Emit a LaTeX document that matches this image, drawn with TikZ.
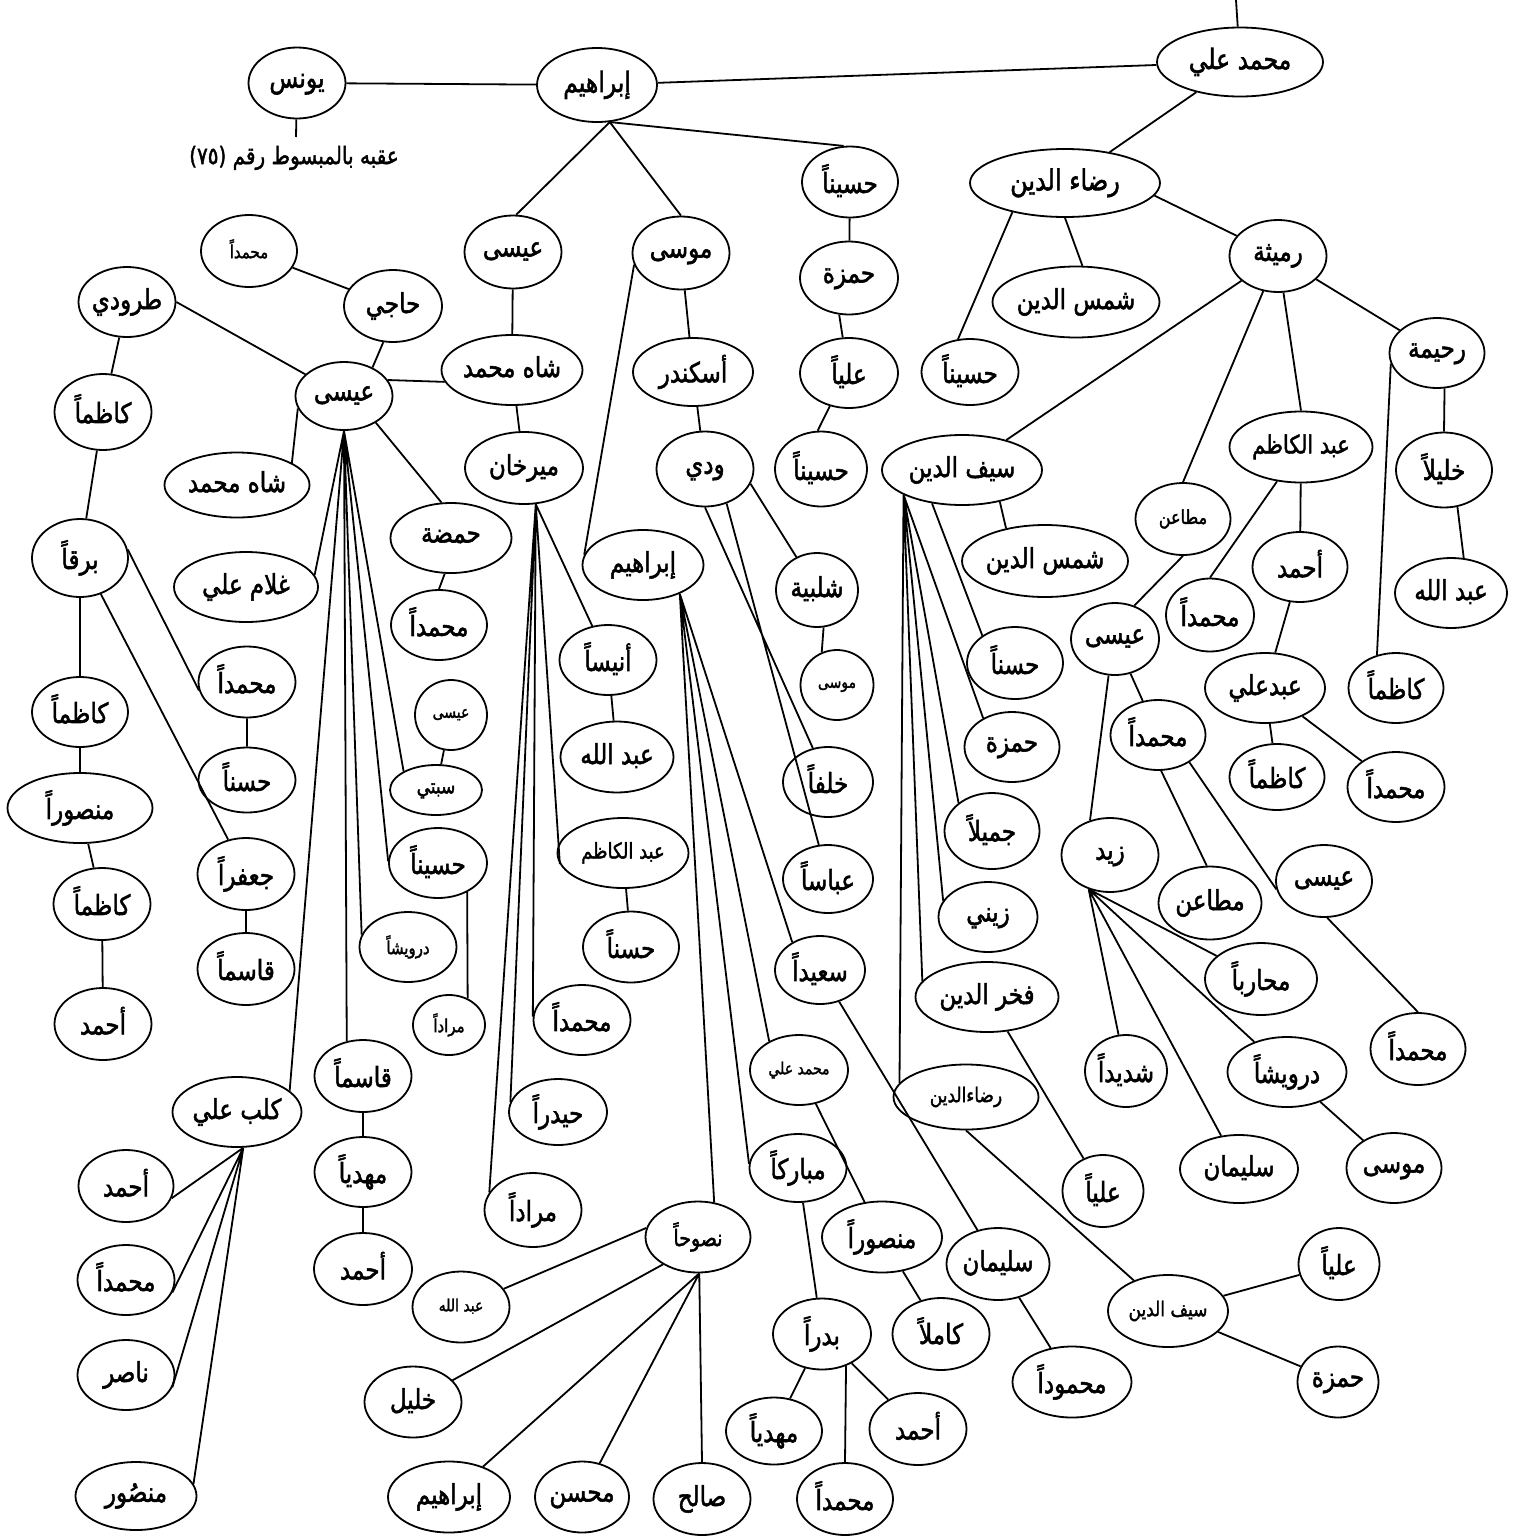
\documentclass[tikz,border=0pt]{standalone}
\usepackage{fontspec}
\usepackage{graphicx}
\usetikzlibrary{shapes.geometric}
\newfontfamily\arabicfont[Script=Arabic,FakeBold=2]{DejaVu Sans}
\TeXXeTstate=1
\tikzset{
 ov/.style n args={2}{ellipse, draw, line width=1.8pt, inner sep=0pt, minimum width=#1pt, minimum height=#2pt},
 txt/.style={inner sep=0pt, font=\arabicfont\fontsize{#1}{#1}\selectfont},
 ln/.style={line width=1.8pt},
}
% name, x, y, width, height, font size, text
\newcommand\ovn[7]{%
 \node[ov={#4}{#5}] (#1) at (#2,#3) {};
 \node[txt=#6] (#1-t) at (#1.center) {\strut\scalebox{1}[1.2]{#7}};}
\begin{document}
\begin{tikzpicture}[x=1pt,y=-1pt]
\useasboundingbox (0,0) rectangle (1533,1537);
% top
\coordinate (topEnd) at (1236,0);
\ovn{mali}{1240}{62}{166}{69}{23.5}{\beginR محمد علي\endR}
\ovn{ibr}{597}{85}{120}{74}{23.5}{\beginR إبراهيم\endR}
\ovn{yunus}{297}{83}{97}{71}{23.5}{\beginR يونس\endR}
\coordinate (noteTop) at (296,137);
\node[txt=20] (note) at (294,158) {\strut\scalebox{1}[1.2]{\beginR عقبه بالمبسوط رقم \beginL(٧٥)\endL\endR}};
% right
\ovn{rida}{1065}{183}{190}{68}{24}{\beginR رضاء الدين\endR}
\ovn{shams1}{1076}{302}{167}{71}{23}{\beginR شمس الدين\endR}
\ovn{husR}{970}{372}{97}{66}{23}{\beginR حسيناً\endR}
\ovn{rum}{1278}{256}{97}{72}{23}{\beginR رميثة\endR}
\ovn{rah}{1437}{353}{95}{70}{23}{\beginR رحيمة\endR}
\ovn{sayf}{962}{470}{160}{70}{23}{\beginR سيف الدين\endR}
\ovn{mutaR}{1183}{519}{95}{72}{16}{\beginR مطاعن\endR}
\ovn{abdk}{1301}{447}{143}{71}{21}{\beginR عبد الكاظم\endR}
\ovn{khal}{1444}{470}{96}{75}{23}{\beginR خليلاً\endR}
\ovn{abdlR}{1451}{593}{112}{70}{23}{\beginR عبد الله\endR}
\ovn{kazR}{1396}{688}{95}{70}{23}{\beginR كاظماً\endR}
\ovn{muhR1}{1210}{615}{88}{73}{23}{\beginR محمداً\endR}
\ovn{ahmR}{1300}{567}{95}{70}{23}{\beginR أحمد\endR}
\ovn{abdali}{1265}{688}{120}{70}{23}{\beginR عبدعلي\endR}
\ovn{kazR2}{1277}{777}{95}{66}{23}{\beginR كاظماً\endR}
\ovn{muhR2}{1396}{787}{97}{70}{23}{\beginR محمداً\endR}
\ovn{isaR}{1115}{639}{88}{72}{23}{\beginR عيسى\endR}
\ovn{muhR3}{1158}{735}{95}{70}{23}{\beginR محمداً\endR}
\ovn{zayd}{1110}{855}{97}{74}{23}{\beginR زيد\endR}
\ovn{mutaR2}{1210}{903}{103}{73}{23}{\beginR مطاعن\endR}
\ovn{isaR2}{1324}{881}{96}{72}{23}{\beginR عيسى\endR}
\ovn{muhR4}{1418}{1049}{95}{72}{23}{\beginR محمداً\endR}
\ovn{shad}{1126}{1071}{82}{72}{23}{\beginR شديداً\endR}
\ovn{sulR}{1239}{1169}{118}{68}{23}{\beginR سليمان\endR}
\ovn{darR}{1287}{1072}{119}{70}{23}{\beginR درويشاً\endR}
\ovn{muhar}{1261}{979}{112}{72}{23}{\beginR محارباً\endR}
\ovn{musR}{1394}{1168}{95}{70}{23}{\beginR موسى\endR}
\ovn{shams2}{1045}{561}{166}{72}{23}{\beginR شمس الدين\endR}
\ovn{hasn1}{1015}{663}{96}{72}{23}{\beginR حسناً\endR}
\ovn{ham1}{1012}{747}{95}{70}{23}{\beginR حمزة\endR}
\ovn{jamil}{992}{831}{95}{76}{23}{\beginR جميلاً\endR}
\ovn{zayni}{988}{917}{99}{70}{23}{\beginR زيني\endR}
\ovn{fakhr}{987}{997}{143}{70}{23}{\beginR فخر الدين\endR}
\ovn{rida2}{966}{1097}{145}{65}{17}{\beginR رضاءالدين\endR}
\ovn{ali1}{1103}{1191}{81}{72}{23}{\beginR علياً\endR}
\ovn{sayf2}{1168}{1311}{120}{72}{17}{\beginR سيف الدين\endR}
\ovn{ali2}{1339}{1264}{81}{72}{23}{\beginR علياً\endR}
\ovn{ham2}{1338}{1382}{81}{71}{23}{\beginR حمزة\endR}
% middle
\ovn{isaM}{513}{252}{97}{73}{23}{\beginR عيسى\endR}
\ovn{musM}{681}{253}{97}{73}{23}{\beginR موسى\endR}
\ovn{husM}{850}{182}{96}{71}{23}{\beginR حسيناً\endR}
\ovn{hamM}{849}{278}{98}{73}{23}{\beginR حمزة\endR}
\ovn{aliM}{849}{373}{98}{70}{23}{\beginR علياً\endR}
\ovn{husM2}{821}{469}{92}{75}{23}{\beginR حسيناً\endR}
\ovn{shah}{512}{370}{141}{70}{23}{\beginR شاه محمد\endR}
\ovn{iskandar}{693}{372}{120}{68}{23}{\beginR أسكندر\endR}
\ovn{ibr2}{643}{565}{121}{70}{23}{\beginR إبراهيم\endR}
\ovn{mirkhan}{524}{468}{118}{72}{23}{\beginR ميرخان\endR}
\ovn{wadi}{705}{469}{97}{75}{23}{\beginR ودي\endR}
\ovn{shalb}{817}{590}{82}{74}{23}{\beginR شلبية\endR}
\ovn{musS}{837}{685}{73}{70}{14}{\beginR موسى\endR}
\ovn{khalfa}{828}{782}{90}{70}{23}{\beginR خلفاً\endR}
\ovn{abbas}{828}{879}{90}{68}{23}{\beginR عباساً\endR}
\ovn{saeed}{820}{970}{90}{68}{23}{\beginR سعيداً\endR}
\ovn{maliS}{799}{1070}{98}{70}{14}{\beginR محمد علي\endR}
\ovn{mubarak}{798}{1168}{97}{68}{23}{\beginR مباركاً\endR}
\ovn{nasuh}{698}{1237}{105}{71}{19}{\beginR نصوحاً\endR}
\ovn{anis}{608}{660}{97}{70}{23}{\beginR أنيساً\endR}
\ovn{abdlM}{617}{757}{113}{71}{23}{\beginR عبد الله\endR}
\ovn{abdkM}{623}{853}{131}{70}{18}{\beginR عبد الكاظم\endR}
\ovn{muhM}{582}{1020}{97}{70}{23}{\beginR محمداً\endR}
\ovn{haydar}{558}{1112}{98}{66}{23}{\beginR حيدراً\endR}
\ovn{murad}{533}{1210}{97}{74}{23}{\beginR مراداً\endR}
\ovn{hasnM}{631}{947}{96}{71}{23}{\beginR حسناً\endR}
\ovn{badr}{822}{1334}{98}{71}{23}{\beginR بدراً\endR}
\ovn{mansM}{882}{1237}{120}{71}{23}{\beginR منصوراً\endR}
\ovn{kamil}{941}{1334}{97}{72}{23}{\beginR كاملاً\endR}
\ovn{sulM}{998}{1264}{103}{72}{23}{\beginR سليمان\endR}
\ovn{mahmud}{1072}{1382}{119}{71}{23}{\beginR محموداً\endR}
\ovn{mahdiM}{774}{1431}{96}{67}{23}{\beginR مهدياً\endR}
\ovn{muhB}{845}{1499}{96}{72}{23}{\beginR محمداً\endR}
\ovn{ahmB}{918}{1429}{97}{72}{23}{\beginR أحمد\endR}
\ovn{abdlS}{461}{1307}{97}{71}{14}{\beginR عبد الله\endR}
\ovn{khalil}{413}{1402}{97}{71}{23}{\beginR خليل\endR}
\ovn{ibr3}{449}{1497}{122}{71}{23}{\beginR إبراهيم\endR}
\ovn{muhsin}{582}{1497}{94}{71}{23}{\beginR محسن\endR}
\ovn{salih}{702}{1499}{97}{72}{23}{\beginR صالح\endR}
% left
\ovn{isaL}{344}{396}{97}{68}{23}{\beginR عيسى\endR}
\ovn{haji}{393}{306}{98}{72}{23}{\beginR حاجي\endR}
\ovn{muhT}{249}{251}{96}{72}{15}{\beginR محمداً\endR}
\ovn{tarudi}{127}{302}{97}{70}{23}{\beginR طرودي\endR}
\ovn{kaz1}{103}{412}{97}{76}{23}{\beginR كاظماً\endR}
\ovn{barq}{80}{558}{96}{78}{23}{\beginR برقاً\endR}
\ovn{kaz2}{80}{712}{96}{70}{23}{\beginR كاظماً\endR}
\ovn{mansL}{80}{808}{145}{70}{23}{\beginR منصوراً\endR}
\ovn{kaz3}{102}{904}{97}{72}{23}{\beginR كاظماً\endR}
\ovn{ahmL}{103}{1024}{97}{72}{23}{\beginR أحمد\endR}
\ovn{muhL}{247}{682}{97}{71}{23}{\beginR محمداً\endR}
\ovn{hasnL}{247}{780}{97}{65}{23}{\beginR حسناً\endR}
\ovn{jafar}{246}{874}{97}{72}{23}{\beginR جعفراً\endR}
\ovn{qasimL}{246}{969}{97}{72}{23}{\beginR قاسماً\endR}
\ovn{shahL}{237}{485}{145}{65}{23}{\beginR شاه محمد\endR}
\ovn{hamda}{451}{538}{121}{70}{23}{\beginR حمضة\endR}
\ovn{muhH}{439}{625}{96}{70}{23}{\beginR محمداً\endR}
\ovn{isaS}{451}{715}{72}{70}{14}{\beginR عيسى\endR}
\ovn{sabti}{436}{790}{92}{50}{17}{\beginR سبتي\endR}
\ovn{ghulam}{246}{587}{144}{70}{23}{\beginR غلام علي\endR}
\ovn{kalb}{237}{1112}{129}{70}{23}{\beginR كلب علي\endR}
\ovn{qasimM}{363}{1076}{97}{72}{23}{\beginR قاسماً\endR}
\ovn{darS}{408}{947}{97}{70}{15}{\beginR درويشاً\endR}
\ovn{husL}{438}{863}{98}{70}{23}{\beginR حسيناً\endR}
\ovn{muradS}{449}{1025}{72}{60}{15}{\beginR مراداً\endR}
\ovn{ahmK}{126}{1186}{95}{72}{23}{\beginR أحمد\endR}
\ovn{muhK}{126}{1280}{97}{70}{23}{\beginR محمداً\endR}
\ovn{nasir}{126}{1375}{97}{70}{23}{\beginR ناصر\endR}
\ovn{mansur}{136}{1496}{121}{68}{23}{\beginR منصُور\endR}
\ovn{mahdiL}{363}{1172}{97}{70}{23}{\beginR مهدياً\endR}
\ovn{ahmQ}{363}{1269}{98}{72}{23}{\beginR أحمد\endR}
% connectors
\draw[ln]
 (topEnd) -- (mali)
 (ibr) -- (mali)
 (yunus) -- (ibr)
 (yunus) -- (noteTop)
 (mali) -- (rida)
 (rida.south) -- (shams1.80)
 (rida.-151) -- (husR.110)
 (rida.-8) -- (rum)
 (rum) -- (rah)
 (rum) -- (sayf)
 (rum) -- (mutaR.north)
 (rum) -- (abdk.north)
 (rah.-78) -- (khal.north)
 (khal.-70) -- (abdlR.70)
 (rah.193) -- (kazR.120)
 (abdk) -- (muhR1.north)
 (abdk) -- (ahmR)
 (ahmR) -- (abdali)
 (abdali) -- (kazR2)
 (abdali) -- (muhR2)
 (mutaR.south) -- (isaR.60)
 (isaR) -- (muhR3)
 (isaR.-100) -- (zayd.120)
 (muhR3.-85) -- (mutaR2.95)
 (muhR3.-41) -- (isaR2.190)
 (isaR2.-85) -- (muhR4.north)
 (zayd.-122) -- (shad)
 (zayd.-122) -- (sulR)
 (zayd.-122) -- (darR)
 (zayd.-122) -- (muhar)
 (darR) -- (musR)
 (sayf.-40) -- (shams2.140)
 (sayf.-132) -- (hasn1.140)
 (sayf.-157) -- (ham1.135)
 (sayf.-157) -- (jamil.140)
 (sayf.-157) -- (zayni.160)
 (sayf.-157) -- (fakhr.166)
 (sayf.-157) -- (rida2.168)
 (fakhr) -- (ali1)
 (rida2.south) -- (sayf2)
 (sayf2) -- (ali2)
 (sayf2) -- (ham2)
 (ibr.-71) -- (isaM.85)
 (ibr.-71) -- (musM.north)
 (ibr.-71) -- (husM.100)
 (husM) -- (hamM)
 (hamM.-105) -- (aliM.100)
 (aliM.-120) -- (husM2.95)
 (isaM) -- (shah)
 (musM) -- (iskandar)
 (shah) -- (mirkhan)
 (iskandar) -- (wadi)
 (musM.194) -- (ibr2.170)
 (isaL.20) -- (shah.190)
 (mirkhan.-72) -- (anis)
 (mirkhan.-72) -- (abdkM.190)
 (mirkhan.-72) -- (muhM.176)
 (mirkhan.-72) -- (haydar.168)
 (mirkhan.-72) -- (murad.158)
 (anis) -- (abdlM)
 (abdkM) -- (hasnM)
 (wadi.-18) -- (shalb)
 (shalb.-80) -- (musS.115)
 (wadi.south) -- (khalfa)
 (wadi.-58) -- (abbas)
 (ibr2.-38) -- (saeed.135)
 (ibr2.-38) -- (maliS.136)
 (ibr2.-38) -- (mubarak.175)
 (ibr2.-38) -- (nasuh.65)
 (saeed) -- (sulM)
 (maliS) -- (mansM)
 (mubarak) -- (badr)
 (mansM) -- (kamil)
 (sulM) -- (mahmud)
 (badr) -- (mahdiM)
 (badr.-53) -- (muhB.north)
 (badr) -- (ahmB)
 (nasuh.170) -- (abdlS)
 (nasuh.-142) -- (khalil)
 (nasuh.-88) -- (ibr3)
 (nasuh.-88) -- (muhsin)
 (nasuh.-88) -- (salih.north)
 (haji.-105) -- (isaL.45)
 (muhT) -- (haji)
 (tarudi.east) -- (isaL)
 (tarudi) -- (kaz1)
 (kaz1) -- (barq)
 (barq) -- (kaz2)
 (kaz2) -- (mansL)
 (mansL) -- (kaz3)
 (kaz3) -- (ahmL)
 (barq.10) -- (muhL.190)
 (barq.-60) -- (jafar)
 (muhL) -- (hasnL)
 (jafar) -- (qasimL)
 (isaL.-165) -- (shahL.22)
 (isaL.-40) -- (hamda.105)
 (hamda.-100) -- (muhH.north)
 (isaS) -- (sabti)
 (isaL.south) -- (ghulam.10)
 (isaL.south) -- (kalb.22)
 (isaL.south) -- (qasimM.115)
 (isaL.south) -- (darS.165)
 (isaL.south) -- (husL.178)
 (isaL.south) -- (sabti.150)
 (husL.-45) -- (muradS.55)
 (kalb.-80) -- (ahmK.-15)
 (kalb.-80) -- (muhK.-15)
 (kalb.-80) -- (nasir.-15)
 (kalb.-80) -- (mansur.12)
 (qasimM) -- (mahdiL)
 (mahdiL) -- (ahmQ);
\end{tikzpicture}
\end{document}
